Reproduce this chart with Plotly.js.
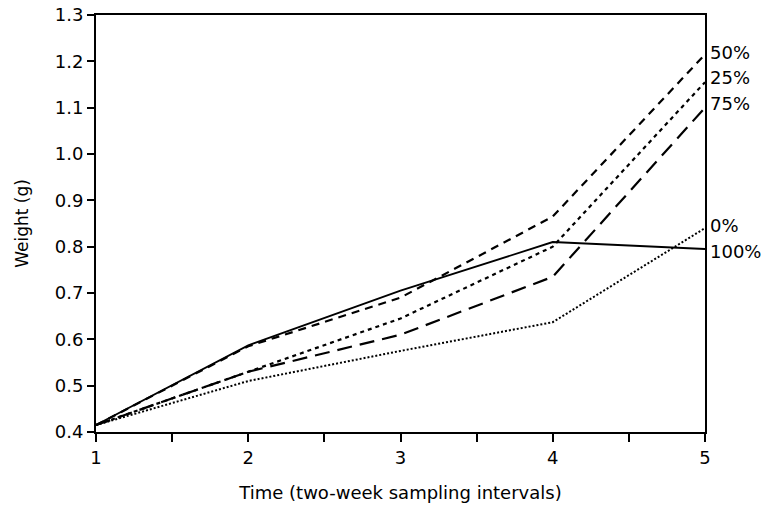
<!DOCTYPE html>
<html>
<head>
<meta charset="utf-8">
<script src="https://cdn.plot.ly/plotly-3.0.1.min.js"></script>
<style>html,body{margin:0;padding:0;background:#fff}#chart{width:767px;height:509px}</style>
</head>
<body>
<div id="chart"></div>
<script>
const times = [1, 2, 3, 4, 5];
const seriesNames = ['50%', '25%', '75%', '0%', '100%'];
const w50 = [0.415, 0.585, 0.69, 0.865, 1.215];
const w25 = [0.415, 0.53, 0.645, 0.80, 1.155];
const w75 = [0.415, 0.53, 0.61, 0.735, 1.10];
const w0 = [0.415, 0.51, 0.575, 0.637, 0.84];
const w100 = [0.415, 0.587, 0.705, 0.81, 0.795];
const labelY = [1.22, 1.165, 1.11, 0.845, 0.79];
const yTicks = [0.4, 0.5, 0.6, 0.7, 0.8, 0.9, 1.0, 1.1, 1.2, 1.3];

const values = [w50, w25, w75, w0, w100];
const dashes = ['8px,6px', '4px,4px', '15px,8px', '2px,2px', 'solid'];
const widths = [2.2, 2.2, 2.2, 2, 1.8];

const traces = values.map((v, i) => ({
  x: times, y: v, type: 'scatter', mode: 'lines', name: seriesNames[i],
  line: {color: '#000', width: widths[i], dash: dashes[i]},
  showlegend: false, hoverinfo: 'skip'
}));

const annotations = seriesNames.map((n, i) => ({
  x: 1, xref: 'paper', y: labelY[i], yref: 'y', text: n, showarrow: false,
  xanchor: 'left', xshift: 3, font: {size: 18, color: '#000'}
}));

const layout = {
  width: 767, height: 509,
  margin: {l: 96, r: 62, t: 15, b: 77},
  paper_bgcolor: '#fff', plot_bgcolor: '#fff',
  font: {family: 'DejaVu Sans, sans-serif', color: '#000', size: 18},
  xaxis: {
    range: [1, 5], tickvals: times, ticktext: times.map(String),
    showgrid: false, zeroline: false, showline: true, mirror: true, linecolor: '#000', linewidth: 2,
    ticks: 'outside', ticklen: 8, tickwidth: 2, tickcolor: '#000',
    minor: {dtick: 0.5, ticks: 'outside', ticklen: 8, tickwidth: 2, tickcolor: '#000', showgrid: false},
    tickfont: {size: 18},
    title: {text: 'Time (two-week sampling intervals)', font: {size: 18}, standoff: 20}
  },
  yaxis: {
    range: [0.4, 1.3], tickvals: yTicks, tickformat: '.1f',
    showgrid: false, zeroline: false, showline: true, mirror: true, linecolor: '#000', linewidth: 2,
    ticks: 'outside', ticklen: 7, tickwidth: 2, tickcolor: '#000',
    tickfont: {size: 18},
    title: {text: 'Weight (g)', font: {size: 17}, standoff: 22}
  },
  annotations: annotations
};

Plotly.newPlot('chart', traces, layout, {staticPlot: true, displayModeBar: false});
</script>
</body>
</html>
